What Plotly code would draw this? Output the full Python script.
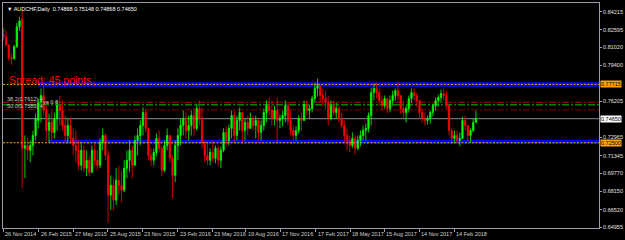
import pandas as pd
import plotly.graph_objects as go

# ---------------- data (weekly candles) ----------------
start_date = "2014-11-26"
highs = [.8277, .8250, .8125, .8045, .8125, .8321, .8375, .8428, .7315, .7298,
         .7271, .7360, .7511, .7645, .7734, .7760, .7582, .7511, .7538, .7520,
         .7627, .7672, .7627, .7493, .7467, .7467, .7378, .7360, .7271, .7253,
         .7226, .7182, .7137, .7226, .7244, .7182, .7289, .7378, .7333, .7182,
         .6959, .6933, .7022, .7048, .7004, .7093, .7182, .7271, .7226, .7315,
         .7378, .7449, .7565, .7556, .7378, .7200, .7200, .7333, .7360, .7226,
         .7271, .7378, .7315, .7137, .7271, .7378, .7467, .7538, .7520, .7493,
         .7538, .7556, .7600, .7627, .7565, .7271, .7244, .7200, .7271, .7226,
         .7226, .7218, .7378, .7396, .7413, .7538, .7538, .7493, .7565, .7520,
         .7467, .7493, .7520, .7493, .7493, .7467, .7449, .7556, .7627, .7654,
         .7627, .7582, .7654, .7502, .7538, .7627, .7609, .7538, .7404, .7396,
         .7493, .7520, .7627, .7627, .7591, .7672, .7787, .7823, .7769, .7734,
         .7716, .7672, .7627, .7627, .7609, .7582, .7520, .7449, .7378, .7315,
         .7342, .7315, .7315, .7360, .7404, .7422, .7520, .7743, .7778, .7787,
         .7734, .7672, .7672, .7645, .7672, .7716, .7734, .7796, .7672, .7627,
         .7582, .7672, .7734, .7734, .7698, .7627, .7556, .7520, .7493, .7538,
         .7600, .7654, .7680, .7725, .7734, .7716, .7591, .7378, .7360, .7360,
         .7342, .7485, .7493, .7404, .7378, .7467, .7538]
lows = [.8161, .8108, .7983, .7947, .7992, .8099, .8250, .6844, .6933, .7093,
        .7075, .7137, .7271, .7378, .7431, .7493, .7271, .7253, .7271, .7289,
        .7360, .7404, .7360, .7253, .7253, .7244, .7137, .7075, .7004, .7004,
        .6986, .6951, .6951, .6986, .7048, .7004, .7022, .7182, .7093, .6532,
        .6648, .6648, .6692, .6781, .6719, .6808, .6933, .6986, .6933, .7048,
        .7137, .7226, .7315, .7342, .7093, .7040, .7048, .7129, .7164, .6951,
        .6986, .7182, .7075, .6755, .6897, .7093, .7226, .7315, .7289, .7271,
        .7315, .7315, .7360, .7404, .7200, .7075, .7048, .7048, .7075, .7066,
        .7040, .7022, .7164, .7218, .7226, .7289, .7253, .7271, .7360, .7253,
        .7271, .7315, .7378, .7360, .7289, .7271, .7271, .7360, .7431, .7493,
        .7404, .7404, .7253, .7378, .7396, .7431, .7404, .7315, .7271, .7271,
        .7333, .7360, .7467, .7493, .7467, .7520, .7609, .7663, .7609, .7582,
        .7556, .7404, .7449, .7493, .7467, .7431, .7378, .7253, .7182, .7164,
        .7200, .7146, .7182, .7218, .7271, .7271, .7342, .7404, .7627, .7645,
        .7582, .7538, .7556, .7511, .7520, .7582, .7627, .7627, .7511, .7467,
        .7431, .7520, .7609, .7627, .7574, .7467, .7431, .7404, .7413, .7422,
        .7485, .7538, .7574, .7609, .7627, .7556, .7315, .7244, .7244, .7253,
        .7218, .7289, .7360, .7262, .7253, .7342, .7431]
opens = [.8223, .8197, .8125, .8010, .8001, .8108, .8286, .8357, .7200, .7226,
         .7182, .7226, .7315, .7449, .7609, .7672, .7538, .7360, .7431, .7342,
         .7467, .7582, .7538, .7404, .7315, .7404, .7289, .7226, .7182, .7048,
         .7182, .7022, .7093, .6986, .7182, .7093, .7048, .7253, .7315, .7137,
         .6781, .6870, .6737, .6915, .6870, .6826, .7022, .7093, .7182, .7048,
         .7271, .7315, .7404, .7520, .7378, .7137, .7093, .7164, .7289, .7200,
         .7004, .7226, .7315, .7111, .6959, .7226, .7315, .7404, .7467, .7360,
         .7404, .7493, .7378, .7556, .7467, .7253, .7137, .7093, .7164, .7111,
         .7200, .7093, .7182, .7342, .7271, .7378, .7493, .7315, .7449, .7520,
         .7360, .7431, .7378, .7467, .7404, .7449, .7342, .7404, .7520, .7582,
         .7538, .7467, .7538, .7449, .7467, .7493, .7582, .7449, .7360, .7315,
         .7360, .7467, .7449, .7591, .7538, .7556, .7645, .7734, .7760, .7672,
         .7645, .7609, .7467, .7582, .7520, .7556, .7467, .7404, .7315, .7271,
         .7226, .7289, .7200, .7271, .7315, .7360, .7378, .7493, .7698, .7734,
         .7698, .7627, .7582, .7645, .7556, .7627, .7672, .7716, .7672, .7556,
         .7520, .7556, .7645, .7698, .7672, .7627, .7520, .7467, .7449, .7467,
         .7520, .7582, .7627, .7654, .7689, .7672, .7582, .7360, .7289, .7315,
         .7271, .7289, .7449, .7404, .7315, .7360, .7431]
closes = [.8197, .8125, .8010, .8001, .8108, .8286, .8339, .7200, .7226, .7182,
          .7226, .7315, .7467, .7609, .7672, .7538, .7360, .7431, .7342, .7467,
          .7582, .7538, .7404, .7315, .7404, .7289, .7226, .7182, .7048, .7182,
          .7022, .7093, .6986, .7182, .7093, .7048, .7253, .7315, .7137, .6781,
          .6870, .6737, .6915, .6870, .6826, .7022, .7093, .7182, .7048, .7271,
          .7315, .7404, .7520, .7378, .7137, .7093, .7164, .7289, .7200, .7004,
          .7226, .7315, .7111, .6959, .7226, .7315, .7404, .7467, .7360, .7404,
          .7493, .7378, .7556, .7467, .7253, .7137, .7093, .7164, .7111, .7200,
          .7093, .7182, .7342, .7271, .7378, .7493, .7315, .7449, .7520, .7360,
          .7431, .7378, .7467, .7404, .7449, .7342, .7404, .7520, .7582, .7538,
          .7467, .7538, .7449, .7467, .7493, .7582, .7449, .7360, .7315, .7360,
          .7467, .7449, .7591, .7538, .7556, .7645, .7734, .7760, .7672, .7645,
          .7609, .7467, .7582, .7520, .7556, .7467, .7404, .7315, .7271, .7226,
          .7289, .7200, .7271, .7315, .7360, .7378, .7493, .7698, .7734, .7698,
          .7627, .7582, .7645, .7556, .7627, .7672, .7716, .7672, .7556, .7520,
          .7556, .7645, .7698, .7672, .7627, .7520, .7467, .7449, .7467, .7520,
          .7582, .7627, .7654, .7689, .7672, .7582, .7360, .7289, .7315, .7271,
          .7289, .7449, .7404, .7315, .7360, .7431, .7465]

ytick_vals = [0.84215, 0.82595, 0.81020, 0.79400, 0.76205, 0.72965,
              0.71345, 0.69770, 0.68150, 0.66520, 0.64955]
ytick_text = ["0.84215", "0.82595", "0.81020", "0.79400", "0.76205", "0.72965",
              "0.71345", "0.69770", "0.68150", "0.66520", "0.64955"]
xtick_dates = ["2014-11-26", "2015-02-26", "2015-05-27", "2015-08-25", "2015-11-23",
               "2016-02-23", "2016-05-23", "2016-08-19", "2016-11-17", "2017-02-17",
               "2017-05-18", "2017-08-15", "2017-11-14", "2018-02-14"]
xtick_text = ["26 Nov 2014", "26 Feb 2015", "27 May 2015", "25 Aug 2015", "23 Nov 2015",
              "23 Feb 2016", "23 May 2016", "19 Aug 2016", "17 Nov 2016", "17 Feb 2017",
              "18 May 2017", "15 Aug 2017", "14 Nov 2017", "14 Feb 2018"]

resistance = 0.77715
support = 0.72500
bid = 0.74650
level_red = 0.7612
level_green = 0.7589
level_darkred = 0.7545
resist_band_start = "2015-02-24"
support_band_start = "2015-03-24"
title_text = "AUDCHF,Daily  0.74868 0.75148 0.74868 0.74650"
spread_text = "Spread: 45 points."

# ---------------- figure ----------------
dates = pd.date_range(start_date, periods=len(closes), freq="7D")
x_start, x_end = "2014-11-25", "2019-02-26"
y_lo, y_hi = 0.6488, 0.8499

fig = go.Figure()
fig.add_trace(go.Candlestick(
    x=dates, open=opens, high=highs, low=lows, close=closes,
    increasing=dict(line=dict(color="#00ff00", width=0.8), fillcolor="#00ff00"),
    decreasing=dict(line=dict(color="#ff0000", width=0.8), fillcolor="#ff0000"),
    whiskerwidth=0, showlegend=False, hoverinfo="skip"))

shapes = []
# blue bands
shapes.append(dict(type="rect", xref="x", yref="y", x0=resist_band_start, x1=x_end,
                   y0=resistance - 0.0020, y1=resistance + 0.0019,
                   fillcolor="#0000ff", line=dict(width=0), layer="below"))
shapes.append(dict(type="rect", xref="x", yref="y", x0=support_band_start, x1=x_end,
                   y0=support - 0.0009, y1=support + 0.0027,
                   fillcolor="#0000ff", line=dict(width=0), layer="below"))
# horizontal level lines
for val, col in [(level_red, "#c00000"), (level_green, "#00c000"), (level_darkred, "#800000")]:
    shapes.append(dict(type="line", xref="paper", yref="y", x0=0, x1=1, y0=val, y1=val,
                       line=dict(color=col, width=1, dash="7px,2px,2px,2px"), layer="below"))
shapes.append(dict(type="line", xref="paper", yref="y", x0=0, x1=1, y0=bid, y1=bid,
                   line=dict(color="#8c8c9c", width=1), layer="below"))
for val in [resistance, support]:
    shapes.append(dict(type="line", xref="paper", yref="y", x0=0, x1=1, y0=val, y1=val,
                       line=dict(color="#ffa500", width=1, dash="2px,1.5px"), layer="above"))

small = dict(family="Liberation Sans, Arial, sans-serif", size=5.5)
annotations = []
# title
annotations.append(dict(xref="paper", yref="paper", x=0, y=1, xanchor="left", yanchor="top",
                        xshift=2, yshift=-1, showarrow=False,
                        text="\u25bc " + title_text, font=dict(color="#ffffff", **small)))
annotations.append(dict(xref="paper", yref="y", x=0, y=0.7813, xanchor="left", yanchor="middle",
                        xshift=4, showarrow=False, text=spread_text,
                        font=dict(family="Liberation Sans, Arial, sans-serif", size=10.5, color="#ff0000")))
# object labels at the left
for yv, xs, txt in [(0.7640, 2, "38.2(0.7612) 4"), (0.7617, 38, "ya 0.6"), (0.7578, 2, "50.0(0.7589) 4")]:
    annotations.append(dict(xref="paper", yref="y", x=0, y=yv, xanchor="left", yanchor="middle",
                            xshift=xs, showarrow=False, text=txt,
                            font=dict(color="#c8c8c8", **small)))
# price boxes on the right axis
for val, bg in [(resistance, "#ffa500"), (bid, "#ffffff"), (support, "#ffa500")]:
    annotations.append(dict(xref="paper", yref="y", x=1, y=val, xanchor="left", yanchor="middle",
                            xshift=1, showarrow=False, text=f"{val:.5f}", bgcolor=bg,
                            borderpad=0, font=dict(color="#000000", **small)))
# x labels (left aligned after tick marks)
for d, t in zip(xtick_dates, xtick_text):
    annotations.append(dict(xref="x", yref="paper", x=d, y=0, xanchor="left", yanchor="top",
                            xshift=0, yshift=-1, showarrow=False, text=t,
                            font=dict(color="#d0d0d0", **small)))

fig.update_layout(
    width=625, height=240,
    margin=dict(l=2, r=24, t=2, b=12),
    paper_bgcolor="#000000", plot_bgcolor="#000000",
    shapes=shapes, annotations=annotations, showlegend=False,
    xaxis=dict(type="date", range=[x_start, x_end], rangeslider=dict(visible=False),
               showgrid=False, zeroline=False, showline=True, linecolor="#9a9aa8",
               mirror=True, linewidth=1, tickvals=xtick_dates, showticklabels=False,
               ticks="outside", ticklen=3, tickcolor="#9a9aa8"),
    yaxis=dict(range=[y_lo, y_hi], side="right", showgrid=False, zeroline=False,
               showline=True, linecolor="#9a9aa8", mirror=True, linewidth=1,
               tickvals=ytick_vals, ticktext=ytick_text, ticks="outside", ticklen=2,
               tickcolor="#9a9aa8", tickfont=dict(color="#e0e0e0", **small)),
)
fig.write_html("out.html")
